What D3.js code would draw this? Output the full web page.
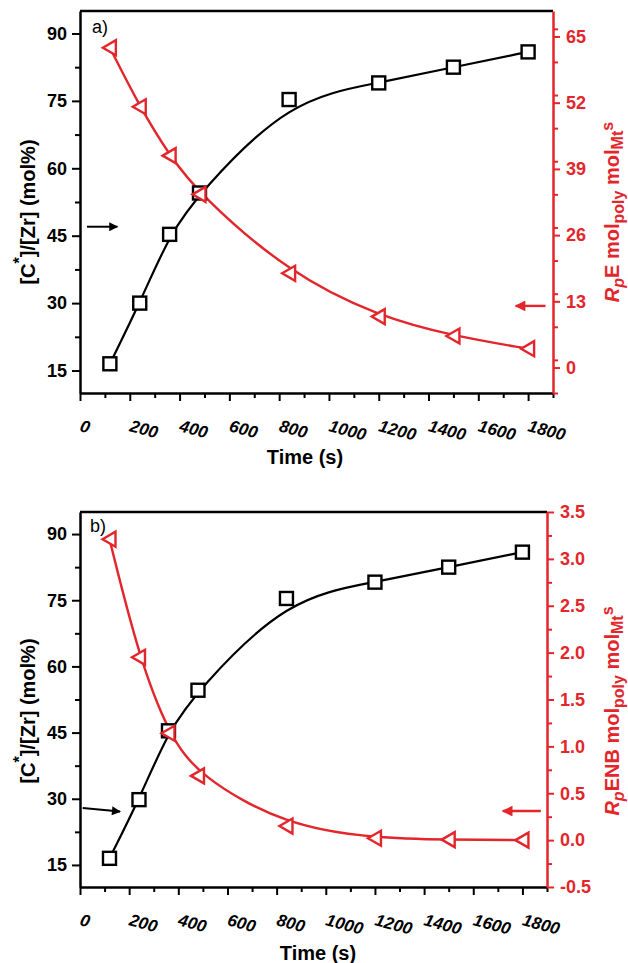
<!DOCTYPE html>
<html><head><meta charset="utf-8">
<script src="https://cdn.jsdelivr.net/npm/d3@7"></script>
<style>
html,body{margin:0;padding:0;background:#fff;}
svg{display:block;font-family:"Liberation Sans",Arial,sans-serif;}
</style></head>
<body>
<script>
// ---- data ----
const time = [120, 240, 360, 480, 840, 1200, 1500, 1800];
const activeSitesA = [16.5, 30.0, 45.3, 54.5, 75.3, 79.0, 82.5, 85.9];
const rateE = [62.8, 51.2, 41.6, 34.0, 18.5, 10.0, 6.2, 3.7];
const activeSitesB = [16.5, 29.8, 45.4, 54.6, 75.4, 79.1, 82.5, 85.9];
const rateENB = [3.21, 1.95, 1.14, 0.685, 0.15, 0.02, 0.005, 0.0];
const xTicks = [0, 200, 400, 600, 800, 1000, 1200, 1400, 1600, 1800];
const leftTicks = [15, 30, 45, 60, 75, 90];
const rightTicksA = [0, 13, 26, 39, 52, 65];
const rightTicksB = [-0.5, 0, 0.5, 1, 1.5, 2, 2.5, 3, 3.5];
const panelLabels = ["a)", "b)"];
// arrow annotations (data coordinates)
const arrowsA = {black: [28, 150, 47, 47], red: [1870, 1750, 12.1]};
const arrowsB = {black: [11, 163, 27.9, 27.1], red: [1875, 1720, 0.31]};

const RED = "#e3262b";
const W = 628, H = 963;
const svg = d3.select("body").append("svg").attr("width", W).attr("height", H);
const defs = svg.append("defs");
[["ahBlack", "#000"], ["ahRed", RED]].forEach(([id, c]) => {
  defs.append("marker").attr("id", id).attr("viewBox", "0 0 10 10")
    .attr("refX", 9).attr("refY", 5).attr("markerWidth", 5).attr("markerHeight", 4.5)
    .attr("markerUnits", "strokeWidth").attr("orient", "auto")
    .append("path").attr("d", "M0,0 L10,5 L0,10 Z").attr("fill", c);
});

function panel(cfg) {
  const {x0, x1, y0, y1} = cfg;
  const g = svg.append("g");
  const x = d3.scaleLinear().domain([0, 1900]).range([x0, x1]);
  const yL = d3.scaleLinear().domain([10, 95]).range([y1, y0]);
  const yR = d3.scaleLinear().domain(cfg.rDomain).range([y1, y0]);

  // top frame
  g.append("line").attr("x1", x0).attr("x2", x1).attr("y1", y0).attr("y2", y0)
    .attr("stroke", "#000").attr("stroke-width", 2.5);

  // left axis
  const minorL = d3.range(22.5, 95, 15);
  g.append("g").attr("transform", `translate(${x0},0)`)
    .call(d3.axisLeft(yL).tickValues(minorL).tickSize(5).tickFormat(""))
    .call(a => a.select(".domain").remove())
    .selectAll("line").attr("stroke-width", 2);
  const la = g.append("g").attr("transform", `translate(${x0},0)`)
    .call(d3.axisLeft(yL).tickValues(leftTicks).tickSize(8).tickPadding(5).tickSizeOuter(0));
  la.select(".domain").attr("stroke-width", 2.5);
  la.selectAll("line").attr("stroke-width", 2);
  la.selectAll("text").attr("font-size", 18).attr("font-weight", "bold")
    .attr("font-family", "Liberation Sans, Arial, sans-serif").attr("fill", "#000");

  // bottom axis
  const minorX = d3.range(100, 1901, 200);
  g.append("g").attr("transform", `translate(0,${y1})`)
    .call(d3.axisBottom(x).tickValues(minorX).tickSize(5).tickFormat(""))
    .call(a => a.select(".domain").remove())
    .selectAll("line").attr("stroke-width", 2);
  const ba = g.append("g").attr("transform", `translate(0,${y1})`)
    .call(d3.axisBottom(x).tickValues(xTicks).tickSize(8).tickFormat("").tickSizeOuter(0));
  ba.select(".domain").attr("stroke-width", 2.5);
  ba.selectAll("line").attr("stroke-width", 2);
  g.selectAll(null).data(xTicks).enter().append("text")
    .attr("transform", d => `translate(${x(d) - 1},${y1 + 38}) rotate(15)`)
    .attr("font-size", 17).attr("font-weight", "bold").attr("font-style", "italic")
    .text(d => d);

  // right axis
  const rStep = cfg.rMajor / 2;
  const minorR = d3.range(cfg.rDomain[0], cfg.rDomain[1] + 1e-9, rStep)
    .filter(v => !cfg.rTicks.some(t => Math.abs(t - v) < 1e-6));
  g.append("g").attr("transform", `translate(${x1},0)`)
    .call(d3.axisRight(yR).tickValues(minorR).tickSize(5).tickFormat(""))
    .call(a => a.select(".domain").remove())
    .selectAll("line").attr("stroke", RED).attr("stroke-width", 2);
  const ra = g.append("g").attr("transform", `translate(${x1},0)`)
    .call(d3.axisRight(yR).tickValues(cfg.rTicks).tickSize(7).tickPadding(6).tickSizeOuter(0)
      .tickFormat(cfg.rFormat));
  ra.select(".domain").attr("stroke", RED).attr("stroke-width", 2.5);
  ra.selectAll("line").attr("stroke", RED).attr("stroke-width", 2);
  ra.selectAll("text").attr("font-size", 18).attr("font-weight", "bold")
    .attr("font-family", "Liberation Sans, Arial, sans-serif").attr("fill", RED);

  // axis titles
  g.append("text").attr("x", cfg.timeX).attr("y", cfg.timeY).attr("text-anchor", "middle")
    .attr("font-size", 20).attr("font-weight", "bold").text("Time (s)");

  const lt = g.append("text").attr("transform", `translate(35,${cfg.titleY}) rotate(-90)`)
    .attr("text-anchor", "middle").attr("font-size", 20).attr("font-weight", "bold");
  lt.append("tspan").text("[C");
  lt.append("tspan").attr("dy", -10).attr("font-size", 16).text("*");
  lt.append("tspan").attr("dy", 10).text("]/[Zr] (mol%)");

  const rt = g.append("text").attr("transform", `translate(619,${cfg.titleY}) rotate(-90)`)
    .attr("text-anchor", "middle").attr("font-size", 20).attr("font-weight", "bold").attr("fill", RED);
  rt.append("tspan").attr("font-style", "italic").text("R");
  rt.append("tspan").attr("font-style", "italic").attr("dy", 5).attr("font-size", 16).text("p");
  rt.append("tspan").attr("dy", -5).text(cfg.monomer + " mol");
  rt.append("tspan").attr("dy", 5).attr("font-size", 16).text("poly");
  rt.append("tspan").attr("dy", -5).text(" mol");
  rt.append("tspan").attr("dy", 4).attr("font-size", 16).text("Mt");
  rt.append("tspan").attr("dy", -10).attr("font-size", 16).text("s");

  // panel label
  g.append("text").attr("x", cfg.labelX).attr("y", cfg.labelY).attr("font-size", 18).text(cfg.label);

  // curves
  const lineL = d3.line().x((d, i) => x(time[i])).y(d => yL(d)).curve(d3.curveBasis);
  const lineR = d3.line().x((d, i) => x(time[i])).y(d => yR(d)).curve(d3.curveBasis);
  g.append("path").attr("d", lineL(cfg.leftData)).attr("fill", "none").attr("stroke", "#000").attr("stroke-width", 2.2);
  g.append("path").attr("d", lineR(cfg.rightData)).attr("fill", "none").attr("stroke", RED).attr("stroke-width", 2.4);

  // markers
  g.selectAll(null).data(cfg.leftData).enter().append("rect")
    .attr("x", (d, i) => x(time[i]) - 6.5).attr("y", d => yL(d) - 6.5)
    .attr("width", 13).attr("height", 13)
    .attr("fill", "#fff").attr("stroke", "#000").attr("stroke-width", 2.4);
  g.selectAll(null).data(cfg.rightData).enter().append("path")
    .attr("transform", (d, i) => `translate(${x(time[i])},${yR(d)})`)
    .attr("d", "M-7,0 L6,-7.5 L6,7.5 Z")
    .attr("fill", "#fff").attr("stroke", RED).attr("stroke-width", 2.4);

  // arrows
  const ab = cfg.arrows.black;
  g.append("line").attr("x1", x(ab[0])).attr("x2", x(ab[1]))
    .attr("y1", yL(ab[2])).attr("y2", yL(ab[3]))
    .attr("stroke", "#000").attr("stroke-width", 2).attr("marker-end", "url(#ahBlack)");
  const ar = cfg.arrows.red;
  g.append("line").attr("x1", x(ar[0])).attr("x2", x(ar[1]))
    .attr("y1", yR(ar[2])).attr("y2", yR(ar[2]))
    .attr("stroke", RED).attr("stroke-width", 2.4).attr("marker-end", "url(#ahRed)");
}

panel({x0: 80, x1: 553, y0: 11, y1: 393, rDomain: [-5, 70], rTicks: rightTicksA, rMajor: 13,
  rFormat: d => d, leftData: activeSitesA, rightData: rateE, monomer: "E", label: panelLabels[0],
  labelX: 92, labelY: 33, timeX: 305, timeY: 464, titleY: 212, arrows: arrowsA});
panel({x0: 80, x1: 547, y0: 512, y1: 887, rDomain: [-0.5, 3.5], rTicks: rightTicksB, rMajor: 0.5,
  rFormat: d => d.toFixed(1), leftData: activeSitesB, rightData: rateENB, monomer: "ENB", label: panelLabels[1],
  labelX: 90, labelY: 532, timeX: 318, timeY: 960, titleY: 711, arrows: arrowsB});
</script>
</body></html>
